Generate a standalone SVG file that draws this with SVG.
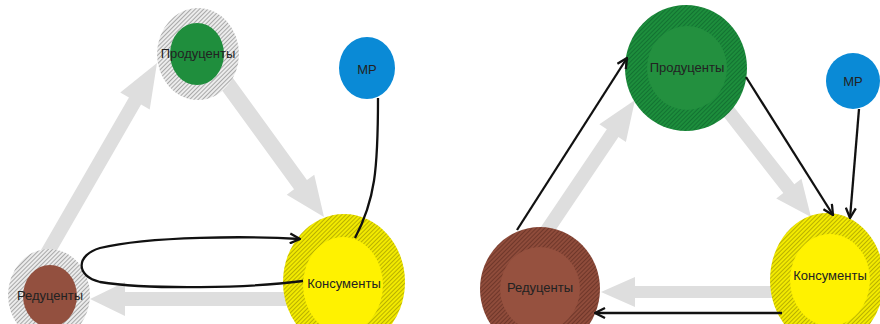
<svg xmlns="http://www.w3.org/2000/svg" width="880" height="324" viewBox="0 0 880 324">
<style>
.lbl{font-family:"Liberation Sans",Arial,sans-serif;font-size:13px;fill:#222;text-anchor:middle;dominant-baseline:central}
.flow{fill:#dedede}
.blk{fill:none;stroke:#111;stroke-width:2.3}
</style>
<defs>
<pattern id="hGray" width="3" height="3" patternUnits="userSpaceOnUse" patternTransform="rotate(45)">
<rect width="3" height="3" fill="#ececec"/><rect width="1" height="3" fill="#a8a8a8"/>
</pattern>
<pattern id="hYel" width="3" height="3" patternUnits="userSpaceOnUse" patternTransform="rotate(45)">
<rect width="3" height="3" fill="#f2ea00"/><rect width="1" height="3" fill="#b9b000"/>
</pattern>
<pattern id="hGrn" width="3" height="3" patternUnits="userSpaceOnUse" patternTransform="rotate(45)">
<rect width="3" height="3" fill="#1d8e3c"/><rect width="1" height="3" fill="#137232"/>
</pattern>
<pattern id="hBrn" width="3" height="3" patternUnits="userSpaceOnUse" patternTransform="rotate(45)">
<rect width="3" height="3" fill="#8f4c3b"/><rect width="1" height="3" fill="#6f372a"/>
</pattern>
<marker id="arr" viewBox="0 0 12 12" refX="11" refY="6" markerWidth="12" markerHeight="12" markerUnits="userSpaceOnUse" orient="auto">
<path d="M1,1 L11,6 L1,11" fill="none" stroke="#111" stroke-width="2.3"/>
</marker>
</defs>

<g id="flows">
<polygon class="flow" transform="translate(157,63) rotate(-60)" points="0,0 -44,-17 -44,-7 -230,-7 -230,7 -44,7 -44,17"/>
<polygon class="flow" transform="translate(324,217) rotate(54)" points="0,0 -40,-17 -40,-8 -200,-8 -200,8 -40,8 -40,17"/>
<polygon class="flow" transform="translate(90,299) rotate(180)" points="0,0 -35,-17 -35,-7 -210,-7 -210,7 -35,7 -35,17"/>
<polygon class="flow" transform="translate(635,100) rotate(-56)" points="0,0 -40,-16 -40,-7 -160,-7 -160,7 -40,7 -40,16"/>
<polygon class="flow" transform="translate(811,217) rotate(52)" points="0,0 -36,-16 -36,-7 -150,-7 -150,7 -36,7 -36,16"/>
<polygon class="flow" transform="translate(601,292) rotate(180)" points="0,0 -34,-15 -34,-6 -180,-6 -180,6 -34,6 -34,15"/>
</g>

<g id="L-producers">
<ellipse cx="198" cy="54" rx="41" ry="46" fill="url(#hGray)"/>
<ellipse cx="197" cy="54" rx="27" ry="31" fill="#1f8e3d"/>
<text class="lbl" x="198" y="53">Продуценты</text>
</g>
<g id="L-mp">
<ellipse cx="367" cy="68" rx="28" ry="31" fill="#0a8ad6"/>
<text class="lbl" x="367" y="69">МР</text>
</g>
<g id="L-consumers">
<ellipse cx="344" cy="282" rx="61" ry="68" fill="url(#hYel)"/>
<ellipse cx="343" cy="285" rx="40" ry="48" fill="#fff200"/>
<text class="lbl" x="344" y="283">Консументы</text>
</g>
<g id="L-reducers">
<ellipse cx="49" cy="295" rx="41" ry="46" fill="url(#hGray)"/>
<ellipse cx="50" cy="296" rx="27" ry="31" fill="#93503f"/>
<text class="lbl" x="50" y="295">Редуценты</text>
</g>

<g id="R-producers">
<ellipse cx="686" cy="68" rx="61" ry="63" fill="url(#hGrn)"/>
<ellipse cx="687" cy="68" rx="40" ry="42" fill="#23903f"/>
<text class="lbl" x="687" y="67">Продуценты</text>
</g>
<g id="R-mp">
<ellipse cx="853" cy="81" rx="27" ry="28" fill="#0a8ad6"/>
<text class="lbl" x="853" y="81">МР</text>
</g>
<g id="R-consumers">
<ellipse cx="827" cy="280" rx="57" ry="67" fill="url(#hYel)"/>
<ellipse cx="830" cy="280" rx="40" ry="46" fill="#fff200"/>
<text class="lbl" x="830" y="275">Консументы</text>
</g>
<g id="R-reducers">
<ellipse cx="540" cy="289" rx="60" ry="62" fill="url(#hBrn)"/>
<ellipse cx="540" cy="289" rx="40" ry="42" fill="#96513f"/>
<text class="lbl" x="540" y="287">Редуценты</text>
</g>

<g id="connectors">
<path class="blk" d="M303,281 C250,288 150,290 100,282 C75,276 76,255 100,248 C150,236 250,236 300,239" marker-end="url(#arr)"/>
<path class="blk" d="M378,98 C378,170 375,200 355,238"/>
<path class="blk" d="M517,230 L627,58" marker-end="url(#arr)"/>
<path class="blk" d="M746,77 L833,215" marker-end="url(#arr)"/>
<path class="blk" d="M859,109 L850,218" marker-end="url(#arr)"/>
<path class="blk" d="M782,313 L595,313" marker-end="url(#arr)"/>
</g>
</svg>
